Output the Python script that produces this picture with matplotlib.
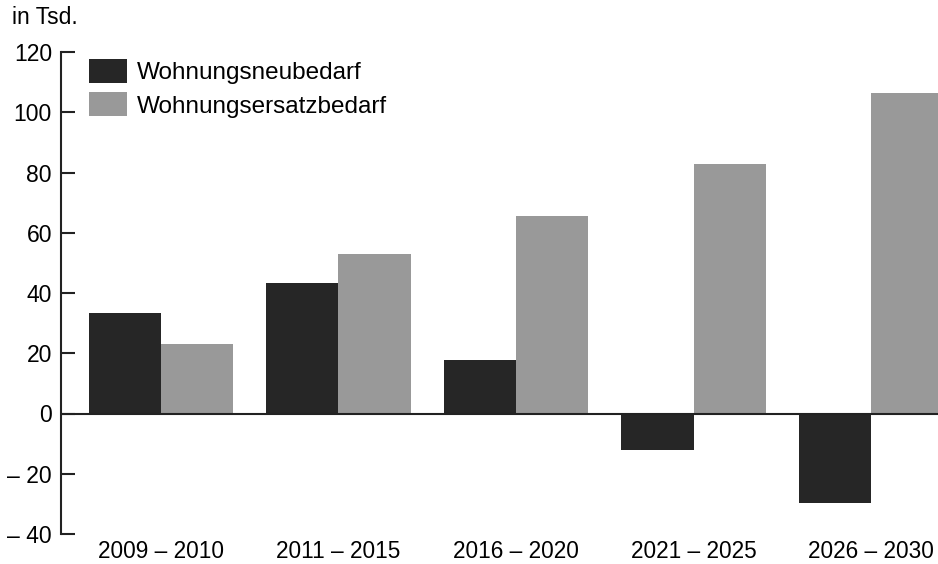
import numpy as np
import matplotlib
matplotlib.use("Agg")
import matplotlib.pyplot as plt

plt.rcParams["font.family"] = ["Liberation Sans", "DejaVu Sans"]

# data (in Tsd.)
categories = ["2009 – 2010", "2011 – 2015", "2016 – 2020", "2021 – 2025", "2026 – 2030"]
neubedarf = [33.5, 43.2, 17.9, -12.2, -29.8]
ersatzbedarf = [23.2, 53.1, 65.7, 82.9, 106.5]
yticks = [-40, -20, 0, 20, 40, 60, 80, 100, 120]
ytick_labels = ["– 40", "– 20", "0", "20", "40", "60", "80", "100", "120"]

dark = "#262626"
gray = "#999999"

fig = plt.figure(figsize=(9.38, 5.64), dpi=100)
ax = fig.add_axes([61 / 938, 30 / 564, 877 / 938, 482 / 564])

x = np.arange(len(categories))
w = 0.406
ax.bar(x - w / 2, neubedarf, width=w, color=dark, label="Wohnungsneubedarf", zorder=2)
ax.bar(x + w / 2, ersatzbedarf, width=w, color=gray, label="Wohnungsersatzbedarf", zorder=2)

ax.axhline(0, color="#222222", lw=1.5, zorder=3)

ax.set_xlim(-0.563, 4.377)
ax.set_ylim(-40, 120)
ax.set_yticks(yticks)
ax.set_yticklabels(ytick_labels, fontsize=16.5)
ax.set_xticks(x)
ax.set_xticklabels(categories, fontsize=16.3)

for s in ["top", "right", "bottom"]:
    ax.spines[s].set_visible(False)
ax.spines["left"].set_linewidth(1.5)
ax.spines["left"].set_color("#222222")
ax.tick_params(axis="y", direction="in", length=10, width=1.5, color="#222222", pad=6.5)
ax.tick_params(axis="x", length=0, pad=4)

fig.text(12 / 938, 1 - 18 / 564, "in Tsd.", fontsize=16.5, va="center", ha="left")

ax.legend(loc="upper left", bbox_to_anchor=(89 / 938, 1 - 59 / 564),
          bbox_transform=fig.transFigure, frameon=False, fontsize=17.5,
          handlelength=1.56, handleheight=1.15, handletextpad=0.4,
          labelspacing=0.33, borderpad=0, borderaxespad=0)

fig.savefig("out.png", dpi=100)
